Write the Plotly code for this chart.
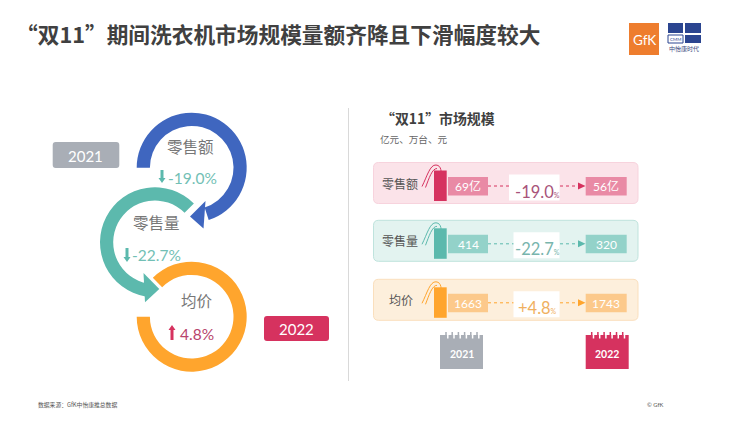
import plotly.graph_objects as go

W, H = 731, 432
FONT = "Lato, 'Noto Sans CJK SC', sans-serif"
CJK = "'Noto Sans CJK SC', sans-serif"

# ---- data ----
title = "“双11”期间洗衣机市场规模量额齐降且下滑幅度较大"
sub_title = "“双11”市场规模"
units = "亿元、万台、元"
years = ["2021", "2022"]
metrics = ["零售额", "零售量", "均价"]
label_2021 = ["69亿", "414", "1663"]
label_2022 = ["56亿", "320", "1743"]
changes = ["-19.0", "-22.7", "+4.8"]
ring_changes = ["-19.0%", "-22.7%", "4.8%"]
source = "数据来源：GfK中怡康推总数据"
copyright_text = "© GfK"

# ring arc spans in degrees
ring_sweep = [252, 215, 315]
ring_rotation = [270, 190, 315]
ring_center = [(191.7, 167.7), (155, 242.3), (191.7, 316.7)]

BLUE, TEAL, ORANGE = "#3f66bf", "#5cb9ad", "#ffa52d"
ROSE = "#d6325f"
GRAY = "#a9aeb6"
ring_colors = [BLUE, TEAL, ORANGE]
R = 55

fig = go.Figure()
for i in range(3):
    cx, cy = ring_center[i]
    fig.add_trace(go.Pie(
        values=[ring_sweep[i], 360 - ring_sweep[i]],
        sort=False, rotation=ring_rotation[i], direction="clockwise",
        hole=0.76, textinfo="none", hoverinfo="skip", showlegend=False,
        marker=dict(colors=[ring_colors[i], "rgba(0,0,0,0)"], line=dict(width=0)),
        domain=dict(x=[(cx - R) / W, (cx + R) / W], y=[1 - (cy + R) / H, 1 - (cy - R) / H]),
    ))

shapes, ann = [], []


def rect(x0, y0, x1, y1, fill, line=None):
    shapes.append(dict(type="rect", x0=x0, y0=y0, x1=x1, y1=y1, fillcolor=fill,
                       line=dict(color=line or fill, width=1 if line else 0), layer="above"))


def path(d, fill="rgba(0,0,0,0)", line=None, width=0, dash=None):
    shapes.append(dict(type="path", path=d, fillcolor=fill,
                       line=dict(color=line or "rgba(0,0,0,0)", width=width, dash=dash or "solid"), layer="above"))


def rrect(x0, y0, x1, y1, r, fill, line=None, width=0):
    d = (f"M{x0+r},{y0} L{x1-r},{y0} Q{x1},{y0} {x1},{y0+r} L{x1},{y1-r} Q{x1},{y1} {x1-r},{y1} "
         f"L{x0+r},{y1} Q{x0},{y1} {x0},{y1-r} L{x0},{y0+r} Q{x0},{y0} {x0+r},{y0} Z")
    path(d, fill, line, width)


def text(x, y, s, size, color, font=FONT, anchor="center", bold=False):
    if bold:
        s = f"<b>{s}</b>"
    ann.append(dict(x=x, y=y, text=s, showarrow=False, xanchor=anchor, yanchor="middle",
                    font=dict(size=size, color=color, family=font), xref="x", yref="y"))


def block_arrow(x, y0, y1, color):
    # vertical arrow, head at y1
    s = 1 if y1 > y0 else -1
    d = (f"M{x-1.5},{y0} L{x+1.5},{y0} L{x+1.5},{y1-s*5} L{x+3.5},{y1-s*5} L{x},{y1} "
         f"L{x-3.5},{y1-s*5} L{x-1.5},{y1-s*5} Z")
    path(d, color)


# ---- title, logos, footer ----
text(14, 33.5, title, 21.7, "#404040", CJK, "left", True)
rect(629, 23, 659, 55, "#ee7d2e")
text(644, 40, "GfK", 13.5, "#ffffff", FONT)
rect(668, 23, 683, 33, "#2b4590")
rect(685, 23, 701, 33, "#2b4590")
rect(668, 35, 683, 43, "#ffffff", "#2b4590")
rect(685, 35, 701, 43, "#2b4590")
text(675.5, 39, "CMM", 4.5, "#2b4590", FONT)
text(684, 48, "中怡康时代", 6, "#3a4a80", CJK)
text(36, 404, source, 5.8, "#555555", CJK, "left")
text(655, 404, copyright_text, 5.8, "#555555", FONT)

# ---- left side ----
rrect(52.7, 142, 119.3, 168, 3, GRAY)
text(85, 155.5, years[0], 15, "#ffffff")
rrect(264, 316, 329, 341, 3, ROSE)
text(296.5, 329, years[1], 15, "#ffffff")

path("M205.5,201 L190,216.5 L203.5,228.5 Z", BLUE)
path("M143.5,273 L159.3,289 L145,302.3 Z", TEAL)

text(190.7, 145.5, metrics[0], 15.5, "#777777", CJK)
text(156, 221.5, metrics[1], 15.5, "#777777", CJK)
text(196.5, 300, metrics[2], 15.5, "#777777", CJK)

block_arrow(162, 170, 183, TEAL)
text(192.5, 178, ring_changes[0], 15.5, "#72bfb5")
block_arrow(127, 248, 262, TEAL)
text(156.5, 255, ring_changes[1], 15.5, "#72bfb5")
block_arrow(172, 340, 325, ROSE)
text(196.5, 333.5, ring_changes[2], 15.5, "#b8446c")

# divider
shapes.append(dict(type="line", x0=348.5, x1=348.5, y0=108, y1=381, line=dict(color="#d9d9d9", width=1), layer="above"))

# ---- right side ----
text(379, 118, sub_title, 13.9, "#404040", CJK, "left", True)
text(378, 139, units, 9.6, "#666666", CJK, "left")

panel_y = [162.5, 220.3, 279.3]
panel_fill = ["#fbe3e9", "#e3f3f0", "#fdefdc"]
panel_line = ["#f7d3dd", "#bfe3dd", "#fadfbd"]
solid = [ROSE, TEAL, ORANGE]
box_fill = ["#e98aa5", "#93d2c9", "#fcc98b"]
change_color = ["#a8537a", "#78b5ad", "#f0b060"]
label_x = [399.5, 399.5, 401]
white_x0 = [509, 513.5, 513.5]

for i in range(3):
    y = panel_y[i]
    c = solid[i]
    rrect(373.5, y, 638, y + 41, 5, panel_fill[i], panel_line[i], 1)
    text(label_x[i], y + 20.5, metrics[i], 12, "#555555", CJK)
    # tag strings
    path(f"M422,{y+24} C427,{y+14} 430,{y+2} 436,{y+2.5} C442,{y+3} 441,{y+10} 441.5,{y+15}", line=c, width=1)
    path(f"M425.5,{y+25} C429,{y+16} 432,{y+6} 437,{y+6}", line=c, width=1)
    rect(434, y + 8, 446.7, y + 38.5, c)
    rect(448, y + 14.5, 488, y + 33, box_fill[i])
    rect(585.7, y + 14.5, 626.7, y + 33, box_fill[i])
    text(468, y + 24, label_2021[i], 12, "#ffffff")
    text(606.2, y + 24, label_2022[i], 12, "#ffffff")
    ym = y + 23.5
    shapes.append(dict(type="line", x0=488, x1=578, y0=ym, y1=ym, layer="above",
                       line=dict(color=c, width=1, dash="dot")))
    path(f"M578,{ym-3.5} L585.5,{ym} L578,{ym+3.5} Z", c)
    rect(white_x0[i], y + 12, 559.5, y + 38, "#ffffff")
    text(537, y + 29, f'{changes[i]}<span style="font-size:7px">%</span>', 16.5, change_color[i])

# calendars
for j, (x0, col) in enumerate([(440, GRAY), (585.7, ROSE)]):
    rect(x0, 335, x0 + 43, 369, col)
    for k in range(6):
        xk = x0 + 6 + k * 6.2
        shapes.append(dict(type="line", x0=xk, x1=xk, y0=332, y1=338, layer="above",
                           line=dict(color=col, width=1.5)))
        shapes.append(dict(type="line", x0=xk + 1.8, x1=xk + 1.8, y0=335, y1=338.5, layer="above",
                           line=dict(color="#ffffff", width=1.5)))
    text(x0 + 21.5, 354, years[j], 10.5, "#ffffff", FONT, bold=True)

fig.update_layout(
    width=W, height=H, margin=dict(l=0, r=0, t=0, b=0), autosize=False,
    paper_bgcolor="#ffffff", plot_bgcolor="rgba(0,0,0,0)", showlegend=False,
    xaxis=dict(range=[0, W], visible=False, fixedrange=True),
    yaxis=dict(range=[H, 0], visible=False, fixedrange=True),
    shapes=shapes, annotations=ann,
)
fig.write_html("out.html", config=dict(displayModeBar=False),
               post_script="document.body.style.margin='0';document.body.style.overflow='hidden';")
